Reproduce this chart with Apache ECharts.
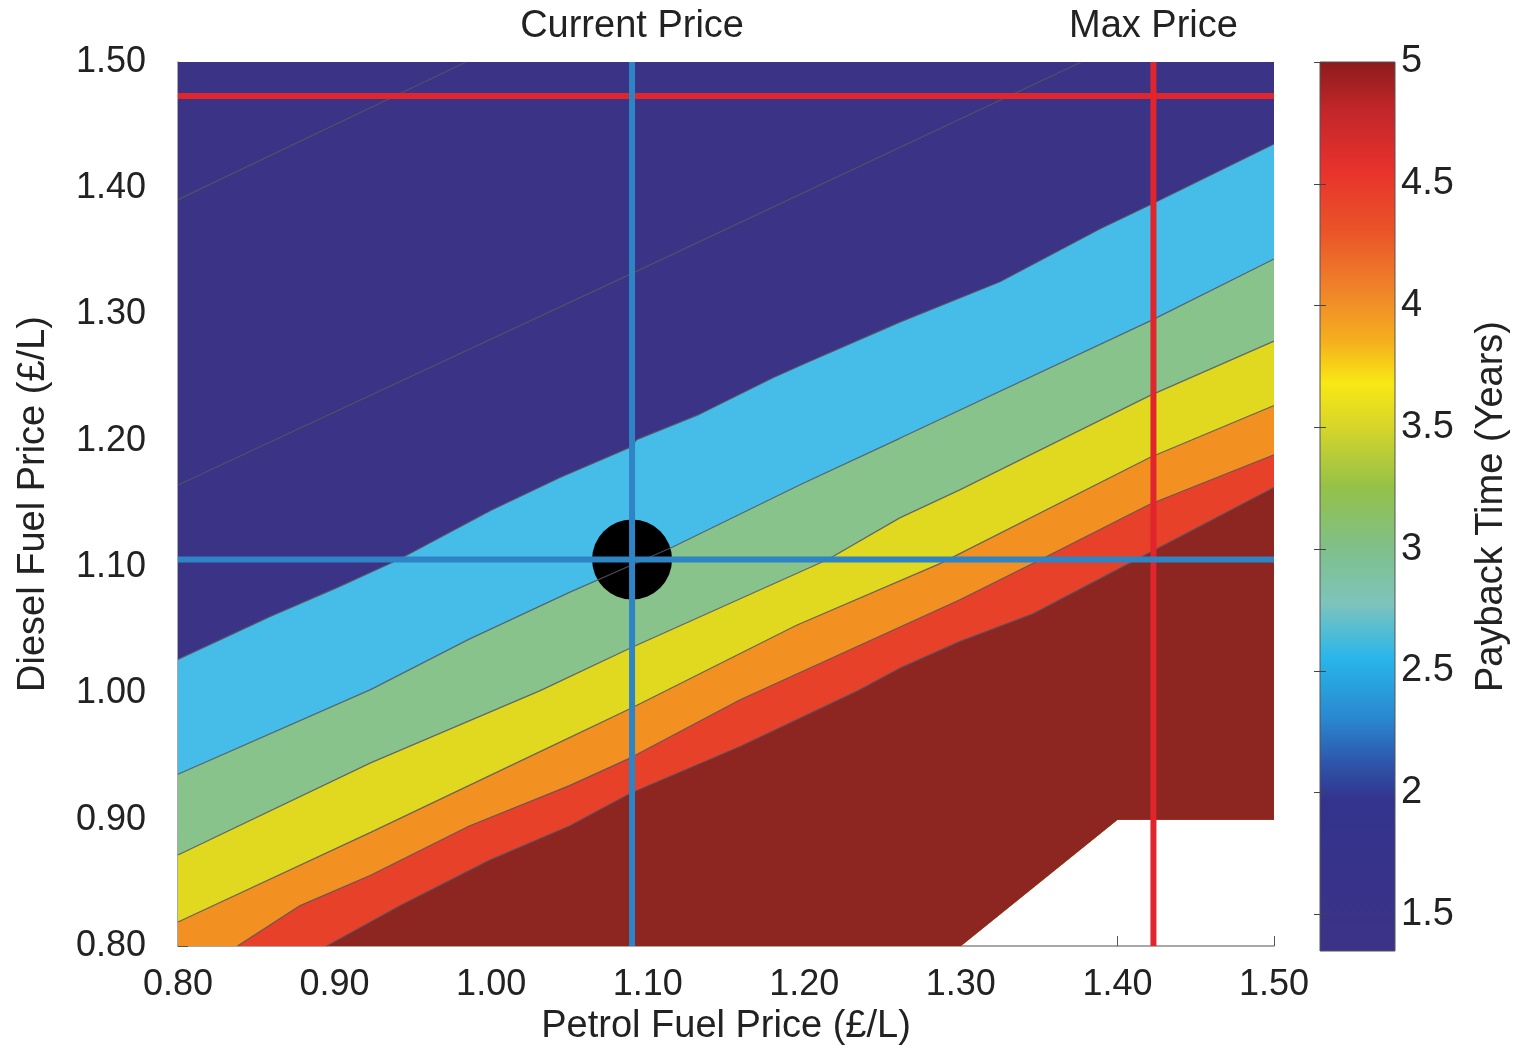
<!DOCTYPE html>
<html>
<head>
<meta charset="utf-8">
<title>Payback Time vs Fuel Price</title>
<script src="https://cdn.jsdelivr.net/npm/echarts@6/dist/echarts.min.js"></script>
<style>
  html, body { margin: 0; padding: 0; background: #fff; }
  #chart { width: 1517px; height: 1051px; }
</style>
</head>
<body>
<div id="chart"></div>
<script>
// ---- axes ----
const petrolTicks = [0.80, 0.90, 1.00, 1.10, 1.20, 1.30, 1.40, 1.50];
const petrolTickLabels = ['0.80', '0.90', '1.00', '1.10', '1.20', '1.30', '1.40', '1.50'];
const dieselTicks = [0.80, 0.90, 1.00, 1.10, 1.20, 1.30, 1.40, 1.50];
const dieselTickLabels = ['0.80', '0.90', '1.00', '1.10', '1.20', '1.30', '1.40', '1.50'];
const paybackTicks = [1.5, 2, 2.5, 3, 3.5, 4, 4.5, 5];
const paybackTickLabels = ['1.5', '2', '2.5', '3', '3.5', '4', '4.5', '5'];
const paybackRange = [1.35, 5];

// ---- reference prices (£/L) ----
const currentPetrol = 1.09;
const currentDiesel = 1.106;
const maxPetrol = 1.423;
const maxDiesel = 1.473;

// ---- region where payback time was computed (petrol, diesel) ----
const dataDomain = [[0.8, 0.8], [1.3, 0.8], [1.4, 0.9], [1.5, 0.9], [1.5, 1.5], [0.8, 1.5]];
const noDataCorner = [[1.5, 0.9], [1.4, 0.9], [1.3, 0.8]];

// ---- payback-time contours, [petrol, diesel] ----
const payback15 = [[0.800, 1.391], [0.984, 1.500]];
const payback20 = [[0.800, 1.165], [1.089, 1.332], [1.377, 1.500]];
const payback25 = [[0.800, 1.027], [0.859, 1.061], [0.902, 1.084], [0.941, 1.106], [1.000, 1.145],
                   [1.044, 1.171], [1.089, 1.195], [1.093, 1.201], [1.133, 1.221], [1.180, 1.250],
                   [1.200, 1.261], [1.261, 1.294], [1.325, 1.326], [1.389, 1.368], [1.421, 1.387],
                   [1.500, 1.435]];
const payback30 = [[0.800, 0.936], [0.923, 1.003], [0.986, 1.043], [1.050, 1.080], [1.116, 1.116],
                   [1.197, 1.165], [1.261, 1.202], [1.421, 1.295], [1.500, 1.344]];
const payback35 = [[0.800, 0.872], [0.923, 0.945], [1.031, 1.002], [1.089, 1.036], [1.215, 1.106],
                   [1.261, 1.139], [1.299, 1.161], [1.421, 1.236], [1.500, 1.279]];
const payback40 = [[0.800, 0.819], [0.923, 0.890], [1.050, 0.965], [1.089, 0.988], [1.195, 1.054],
                   [1.287, 1.103], [1.421, 1.187], [1.500, 1.228]];
const payback45 = [[0.838, 0.800], [0.878, 0.832], [0.923, 0.856], [0.986, 0.895], [1.050, 0.927],
                   [1.089, 0.949], [1.159, 0.995], [1.299, 1.074], [1.351, 1.106], [1.421, 1.150],
                   [1.500, 1.189]];
const payback50 = [[0.895, 0.800], [0.942, 0.832], [0.999, 0.868], [1.050, 0.895], [1.089, 0.921],
                   [1.159, 0.958], [1.234, 1.002], [1.261, 1.020], [1.299, 1.041], [1.346, 1.063],
                   [1.406, 1.102], [1.500, 1.163]];

// filled bands: everything below each contour takes that contour's colour
const filledContours = [payback25, payback30, payback35, payback40, payback45, payback50];
const baseColor = '#3b3386';
const bandColors = ['#45bde8', '#87c38a', '#e1d91f', '#f29021', '#e8412a', '#8d2520'];
const allContours = [payback15, payback20, payback25, payback30, payback35, payback40, payback45, payback50];

// colour scale of the colour bar, [payback time, colour]
const paybackColorStops = [
  [5.00, '#8c1c1b'], [4.80, '#c2262a'], [4.55, '#e8322d'], [4.30, '#ea5528'],
  [4.05, '#f0862a'], [3.85, '#f5b01e'], [3.68, '#f8e814'], [3.50, '#d6d52a'],
  [3.25, '#94c148'], [3.00, '#7fc08a'], [2.78, '#7ec4bb'], [2.55, '#28b6ea'],
  [2.30, '#2a86cf'], [2.12, '#2d55aa'], [1.97, '#33338d'], [1.35, '#3b3387']
];

const FONT = '"Liberation Sans", Arial, Helvetica, sans-serif';
const TEXT = '#222';

function tickLabel(ticks, labels) {
  return v => {
    const i = ticks.findIndex(t => Math.abs(t - v) < 1e-6);
    return i < 0 ? '' : labels[i];
  };
}

// polygon bounded above by a contour and below by the edge of the data domain
function bandPolygon(line) {
  const pts = line.slice();
  noDataCorner.forEach(p => pts.push(p));
  if (line[0][1] > 0.8) pts.push([0.8, 0.8]);
  return pts;
}

const chart = echarts.init(document.getElementById('chart'), null, { renderer: 'canvas' });

const option = {
  animation: false,
  backgroundColor: '#ffffff',
  textStyle: { fontFamily: FONT },
  grid: [
    { left: 178, top: 62, width: 1096, height: 889 },
    { left: 1320, top: 62, width: 75, height: 889 }
  ],
  xAxis: [
    {
      gridIndex: 0, type: 'value', min: 0.8, max: 1.5, interval: 0.1,
      name: 'Petrol Fuel Price (£/L)', nameLocation: 'middle', nameGap: 62,
      nameTextStyle: { fontSize: 38, color: TEXT, fontFamily: FONT },
      axisLine: { lineStyle: { color: '#8c8c8c', width: 1.5 } },
      axisTick: { inside: true, length: 10, lineStyle: { color: '#555', width: 1 } },
      axisLabel: { fontSize: 36, color: TEXT, margin: 21, fontFamily: FONT,
                   formatter: tickLabel(petrolTicks, petrolTickLabels) },
      splitLine: { show: false }
    },
    { gridIndex: 1, type: 'value', min: 0, max: 1, show: false }
  ],
  yAxis: [
    {
      gridIndex: 0, type: 'value', min: 0.8, max: 1.5, interval: 0.1,
      name: 'Diesel Fuel Price (£/L)', nameLocation: 'middle', nameGap: 125, nameRotate: 90,
      nameTextStyle: { fontSize: 38, color: TEXT, fontFamily: FONT },
      axisLine: { show: true, lineStyle: { color: '#8c8c8c', width: 1.5 } },
      axisTick: { show: true, inside: true, length: 10, lineStyle: { color: '#555' } },
      axisLabel: { fontSize: 36, color: TEXT, margin: 32, fontFamily: FONT,
                   padding: [7, 0, 0, 0],
                   formatter: tickLabel(dieselTicks, dieselTickLabels) },
      splitLine: { show: false }
    },
    {
      gridIndex: 1, type: 'value', position: 'right', min: paybackRange[0], max: paybackRange[1],
      z: 5,
      name: 'Payback Time (Years)', nameLocation: 'middle', nameGap: 78, nameRotate: 90,
      nameTextStyle: { fontSize: 38, color: TEXT, fontFamily: FONT },
      axisLine: { show: false },
      axisTick: { show: true, inside: true, length: 6, customValues: paybackTicks,
                  lineStyle: { color: '#444' } },
      axisLabel: { fontSize: 38, color: TEXT, margin: 6, fontFamily: FONT,
                   padding: [7, 0, 0, 0],
                   customValues: paybackTicks,
                   formatter: tickLabel(paybackTicks, paybackTickLabels) },
      splitLine: { show: false }
    },
    {
      gridIndex: 1, type: 'value', position: 'left', min: paybackRange[0], max: paybackRange[1],
      z: 5,
      axisLine: { show: false },
      axisTick: { show: true, inside: true, length: 6, customValues: paybackTicks,
                  lineStyle: { color: '#444' } },
      axisLabel: { show: false },
      splitLine: { show: false }
    }
  ],
  series: [
    // filled contour bands
    {
      type: 'custom', name: 'bands', xAxisIndex: 0, yAxisIndex: 0, silent: true,
      data: [baseColor].concat(bandColors).map((c, i) => [i, 0]),
      renderItem: (params, api) => {
        const i = params.dataIndex;
        const poly = i === 0 ? dataDomain : bandPolygon(filledContours[i - 1]);
        return {
          type: 'polygon',
          shape: { points: poly.map(p => api.coord(p)) },
          style: { fill: i === 0 ? baseColor : bandColors[i - 1] }
        };
      }
    },
    // contour lines
    ...allContours.map(line => ({
      type: 'line', xAxisIndex: 0, yAxisIndex: 0, silent: true,
      data: line, symbol: 'none',
      lineStyle: { color: 'rgba(85,85,100,0.85)', width: 1.2 }
    })),
    // maximum price lines
    {
      type: 'line', xAxisIndex: 0, yAxisIndex: 0, silent: true, symbol: 'none',
      data: [[0.8, maxDiesel], [1.5, maxDiesel]],
      lineStyle: { color: '#e0252d', width: 6 }
    },
    {
      type: 'line', xAxisIndex: 0, yAxisIndex: 0, silent: true, symbol: 'none',
      data: [[maxPetrol, 0.8], [maxPetrol, 1.5]],
      lineStyle: { color: '#e0252d', width: 6 }
    },
    // current price lines
    {
      type: 'line', xAxisIndex: 0, yAxisIndex: 0, silent: true, symbol: 'none',
      data: [[0.8, currentDiesel], [1.5, currentDiesel]],
      lineStyle: { color: '#2f84c6', width: 6 }
    },
    {
      type: 'line', xAxisIndex: 0, yAxisIndex: 0, silent: true, symbol: 'none',
      data: [[currentPetrol, 0.8], [currentPetrol, 1.5]],
      lineStyle: { color: '#2f84c6', width: 6 }
    },
    // current operating point
    {
      type: 'scatter', xAxisIndex: 0, yAxisIndex: 0, silent: true,
      data: [[currentPetrol, currentDiesel]],
      symbol: 'circle', symbolSize: 80,
      itemStyle: { color: '#000000', opacity: 1 }
    },
    // price captions above the plot
    {
      type: 'scatter', xAxisIndex: 0, yAxisIndex: 0, silent: true,
      symbol: 'circle', symbolSize: 0,
      itemStyle: { color: 'rgba(0,0,0,0)', opacity: 1 },
      data: [
        { value: [currentPetrol, 1.5], label: { formatter: 'Current Price' } },
        { value: [maxPetrol, 1.5], label: { formatter: 'Max Price' } }
      ],
      label: { show: true, position: 'top', distance: 16, fontSize: 38,
               color: TEXT, opacity: 1, fontFamily: FONT }
    },
    // colour bar
    {
      type: 'custom', name: 'colorbar', xAxisIndex: 1, yAxisIndex: 1, silent: true,
      data: [[0, paybackRange[0]]],
      renderItem: (params, api) => {
        const top = api.coord([0, paybackRange[1]]);
        const bottom = api.coord([1, paybackRange[0]]);
        const span = paybackRange[1] - paybackRange[0];
        const stops = paybackColorStops.map(s => ({
          offset: (paybackRange[1] - s[0]) / span, color: s[1]
        }));
        return {
          type: 'rect',
          shape: { x: top[0], y: top[1], width: bottom[0] - top[0], height: bottom[1] - top[1] },
          style: {
            fill: new echarts.graphic.LinearGradient(0, 0, 0, 1, stops),
            stroke: '#555', lineWidth: 1
          }
        };
      }
    }
  ]
};

chart.setOption(option);
</script>
</body>
</html>
